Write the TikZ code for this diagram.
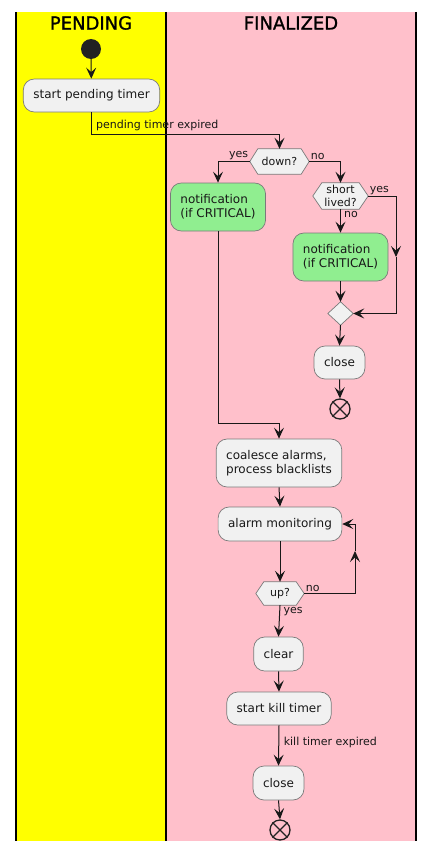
\documentclass[tikz,border=0pt]{standalone}
\usepackage{fontspec}
\setmainfont{DejaVu Sans}
\newfontfamily\titlefont[FakeBold=1.2]{DejaVu Sans}
\usetikzlibrary{arrows.meta,calc}
\definecolor{laneY}{HTML}{FFFF00}
\definecolor{laneP}{HTML}{FFC0CB}
\definecolor{boxbg}{HTML}{F1F1F1}
\definecolor{boxbd}{HTML}{7A7A7A}
\definecolor{notif}{HTML}{90EE90}
\definecolor{ink}{HTML}{181818}
\definecolor{dot}{HTML}{222222}
\pgfdeclarelayer{lanes}
\pgfdeclarelayer{shapes}
\pgfsetlayers{lanes,shapes,main}
\tikzset{
  actbox/.style={draw=boxbd, fill=boxbg, rounded corners=11pt, line width=0.7pt,
    inner xsep=10pt, inner ysep=0pt, align=left, text=ink,
    font=\fontsize{12}{14}\selectfont},
  onel/.style={minimum height=33pt},
  twol/.style={minimum height=48pt},
  notifbox/.style={fill=notif},
  hexnode/.style={inner sep=0pt, align=center, text=ink,
    font=\fontsize{11}{12.5}\selectfont},
  arr/.style={draw=ink, line width=1pt, -{Stealth[length=11pt,width=10pt,inset=4.5pt]}},
  lbl/.style={font=\fontsize{11}{13}\selectfont, inner sep=1.5pt, text=ink},
  lanetitle/.style={font=\titlefont\fontsize{18}{20}\selectfont, text=black},
  startdot/.style={circle, fill=dot, minimum size=20pt, inner sep=0pt},
  enddot/.style={circle, draw=dot, line width=1.3pt, minimum size=20pt, inner sep=0pt},
  shapeline/.style={draw=boxbd, fill=boxbg, line width=0.7pt}
}
\newcommand{\myhexa}[2]{%
  \begin{pgfonlayer}{shapes}
  \draw[shapeline] (#1.west) -- ([xshift=#2]#1.north west) -- ([xshift=-#2]#1.north east)
    -- (#1.east) -- ([xshift=-#2]#1.south east) -- ([xshift=#2]#1.south west) -- cycle;
  \end{pgfonlayer}}
\newcommand{\mydiam}[1]{%
  \begin{pgfonlayer}{shapes}
  \draw[shapeline] (#1.west) -- (#1.north) -- (#1.east) -- (#1.south) -- cycle;
  \end{pgfonlayer}}
\newcommand{\mycross}[1]{%
  \draw[dot, line width=1.3pt] (#1.north east) -- (#1.south west) (#1.north west) -- (#1.south east);}
\begin{document}
\begin{tikzpicture}[x=1pt,y=-1pt]
\useasboundingbox (0,0) rectangle (434,851);
\begin{pgfonlayer}{lanes}
  \fill[laneY] (16,12) rectangle (166,841);
  \fill[laneP] (166,12) rectangle (416,841);
  \draw[black, line width=1.2pt] (16,12) -- (16,841);
  \draw[black, line width=1.2pt] (166,12) -- (166,841);
  \draw[black, line width=1.2pt] (416,12) -- (416,841);
\end{pgfonlayer}
\node[lanetitle] (tP) at (91,23) {PENDING};
\node[lanetitle] (tF) at (291,23) {FINALIZED};

\node[startdot] (start) at (91,49) {};
\node[actbox, onel] (sp) at (91.5,95.5) {start pending timer};

\node[hexnode, minimum width=59pt, minimum height=25pt] (down) at (279.5,161.5) {down?};
\myhexa{down}{8pt}
\node[actbox, twol, notifbox] (n1) at (218,207) {notification\\(if CRITICAL)};
\node[hexnode, minimum width=55pt, minimum height=26pt] (sl) at (340.5,196) {short\\lived?};
\myhexa{sl}{9pt}
\node[actbox, twol, notifbox] (n2) at (340.5,257) {notification\\(if CRITICAL)};
\node[inner sep=0pt, minimum width=25pt, minimum height=23pt] (merge) at (340.5,313.5) {};
\mydiam{merge}
\node[actbox, onel] (close1) at (339.5,362.5) {close};
\node[enddot] (end1) at (340,409) {};
\mycross{end1}

\node[actbox, twol] (co) at (279,463) {coalesce alarms,\\process blacklists};
\node[actbox, onel, minimum height=34pt] (alarm) at (280,524) {alarm monitoring};
\node[hexnode, minimum width=48pt, minimum height=23pt] (up) at (280,593.5) {up?};
\myhexa{up}{8pt}
\node[actbox, onel, minimum height=34pt] (clear) at (278.5,654) {clear};
\node[actbox, onel] (kill) at (279,708.5) {start kill timer};
\node[actbox, onel, minimum height=34pt] (close2) at (278.5,783) {close};
\node[enddot] (end2) at (280,830) {};
\mycross{end2}

\coordinate (c1) at (279.5,134.5);
\coordinate (m1) at (396,257);
\coordinate (m2) at (355,551);

\draw[arr] (start) -- (sp);
\draw[arr] (sp.south) |- (c1) -- (down.north);
\node[lbl, anchor=south west, xshift=3pt, yshift=2pt] (lpte) at (sp.south |- c1) {pending timer expired};

\draw[arr] (down.west) -| (n1.north);
\node[lbl, anchor=south east] (ly1) at (down.west) {yes};
\draw[arr] (down.east) -| (sl.north);
\node[lbl, anchor=south west] (ln1) at (down.east) {no};

\draw[arr] (sl.east) -| (m1);
\draw[arr] (m1) |- (merge.east);
\node[lbl, anchor=south west] (ly2) at (sl.east) {yes};
\draw[arr] (sl.south) -- (n2.north);
\node[lbl, anchor=north west, xshift=2pt] (ln2) at (sl.south) {no};
\draw[arr] (n2.south) -- (merge.north);
\draw[arr] (merge.south) -- (close1.north);
\draw[arr] (close1.south) -- (end1.north);

\draw[arr] (n1.south) |- ($(co.north)+(0,-15)$) -- (co.north);
\draw[arr] (co.south) -- (alarm.north);
\draw[arr] (alarm.south) -- (up.north);
\draw[arr] (up.east) -| (m2);
\draw[arr] (m2) |- (alarm.east);
\node[lbl, anchor=south west] (ln3) at (up.east) {no};
\draw[arr] (up.south) -- (clear.north);
\node[lbl, anchor=north west, xshift=2pt] (ly3) at (up.south) {yes};
\draw[arr] (clear.south) -- (kill.north);
\draw[arr] (kill.south) -- node[lbl, anchor=west, pos=0.42, xshift=3pt] (lkte) {kill timer expired} (close2.north);
\draw[arr] (close2.south) -- (end2.north);
\end{tikzpicture}
\end{document}
